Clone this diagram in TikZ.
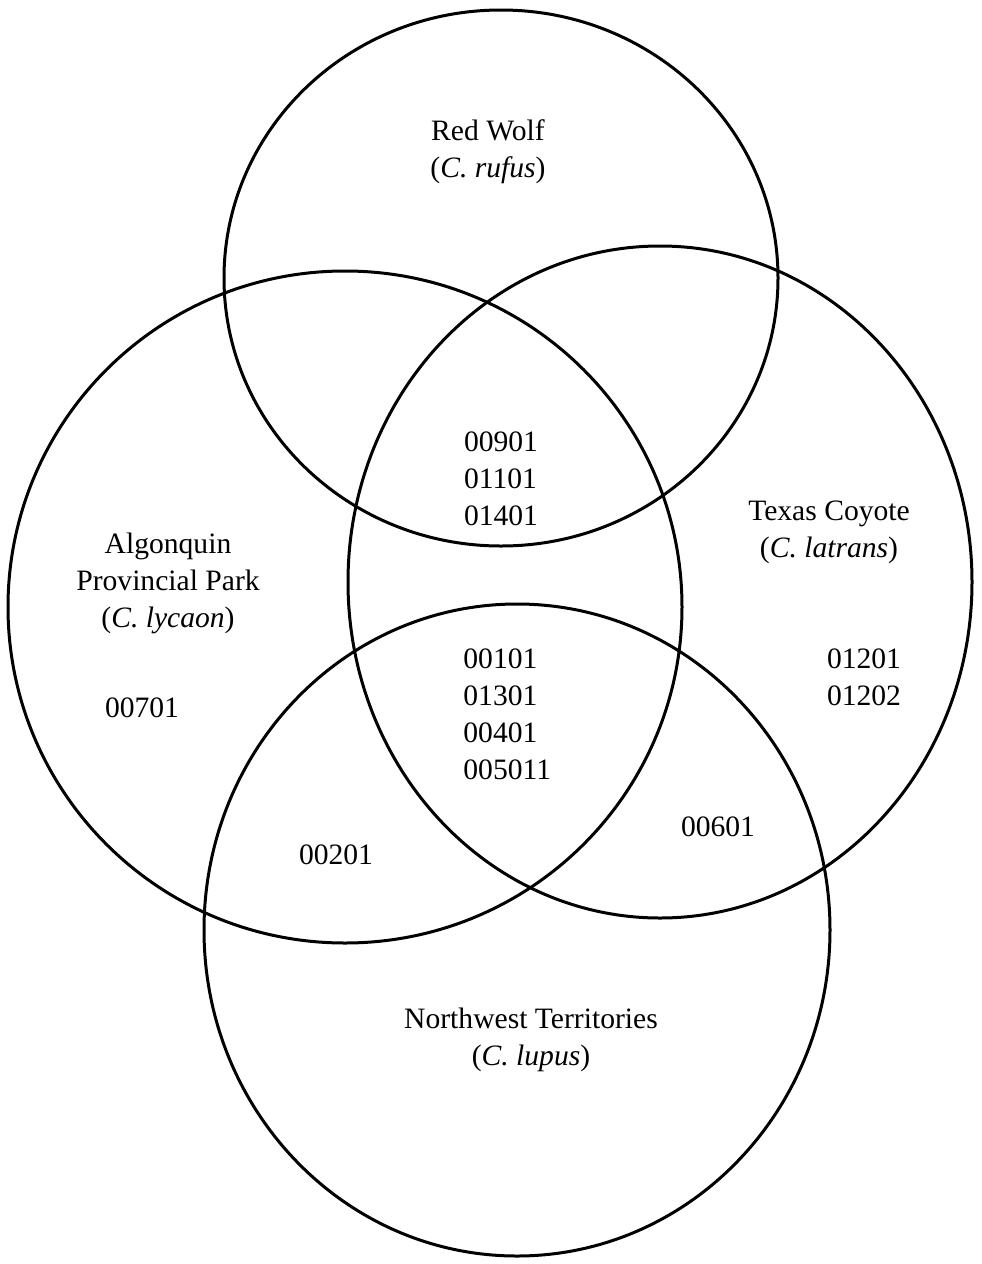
\documentclass[tikz,border=0pt]{standalone}
\usepackage{fontspec}
\setmainfont{Liberation Serif}
\usepackage{tikz}
\usetikzlibrary{positioning}
\tikzset{
  setring/.style={draw=black, line width=1.5pt},
  setlabel/.style={font=\fontsize{14.8}{18.5}\selectfont, align=center, inner sep=0pt},
  haplist/.style={font=\fontsize{14.8}{18.5}\selectfont, align=left, inner sep=0pt}
}

\begin{document}
\begin{tikzpicture}[x=0.5pt, y=-0.5pt]
  % page frame
  \useasboundingbox (0,0) rectangle (981,1264);

  % the four sets
  \draw[setring] (501,278) ellipse (277 and 268);   % red wolf
  \draw[setring] (345,607) ellipse (337 and 336);   % algonquin
  \draw[setring] (660,582) ellipse (312 and 336);   % texas
  \draw[setring] (517,930) ellipse (313 and 326);   % northwest

  % set names
  \node[setlabel] (redwolf) at (488,152) {Red Wolf\\(\textit{C. rufus})};
  \node[setlabel] (algonq) at (168,583) {Algonquin\\Provincial Park\\(\textit{C. lycaon})};
  \node[setlabel] (texas) at (829,532) {Texas Coyote\\(\textit{C. latrans})};
  \node[setlabel] (nwt) at (531,1040) {Northwest Territories\\(\textit{C. lupus})};

  % haplotypes per region
  \node[haplist] (midtop) at (501,479) {00901\\01101\\01401};
  \node[haplist, anchor=west] (midall) at (463,714) {00101\\01301\\00401\\005011};
  \node[haplist] (texonly) at (864,677) {01201\\01202};
  \node[haplist] (algonly) at (142,708) {00701};
  \node[haplist] (texnwt) at (718,827) {00601};
  \node[haplist] (algnwt) at (336,855) {00201};
\end{tikzpicture}
\end{document}
